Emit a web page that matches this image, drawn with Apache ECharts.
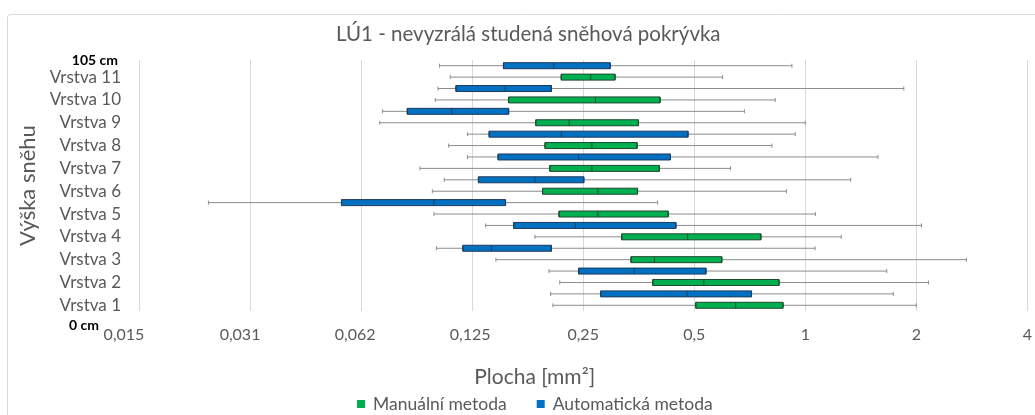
<!DOCTYPE html>
<html>
<head>
<meta charset="utf-8">
<script src="https://cdn.jsdelivr.net/npm/echarts@6/dist/echarts.min.js"></script>
<style>
html,body{margin:0;padding:0;background:#ffffff;}
#chart{width:1035px;height:415px;}
</style>
</head>
<body>
<div id="chart"></div>
<script>
// ---- data ----
const layers = ['Vrstva 1','Vrstva 2','Vrstva 3','Vrstva 4','Vrstva 5','Vrstva 6','Vrstva 7','Vrstva 8','Vrstva 9','Vrstva 10','Vrstva 11'];

// Manuální metoda (green)
const manualMin    = [0.207, 0.216, 0.145, 0.185, 0.0985, 0.0975, 0.0903, 0.108, 0.0702, 0.0993, 0.109];
const manualQ1     = [0.505, 0.386, 0.337, 0.318, 0.215, 0.194, 0.203, 0.197, 0.186, 0.157, 0.218];
const manualMedian = [0.648, 0.531, 0.390, 0.480, 0.274, 0.274, 0.264, 0.264, 0.229, 0.270, 0.262];
const manualQ3     = [0.870, 0.849, 0.594, 0.758, 0.425, 0.351, 0.402, 0.350, 0.353, 0.404, 0.305];
const manualMax    = [2.000, 2.157, 2.734, 1.252, 1.065, 0.889, 0.627, 0.812, 1.000, 0.829, 0.597];

// Automatická metoda (blue)
const autoMin    = [0.204, 0.202, 0.100, 0.136, 0.0241, 0.105, 0.1215, 0.1215, 0.0714, 0.101, 0.102];
const autoQ1     = [0.279, 0.243, 0.118, 0.162, 0.0553, 0.130, 0.147, 0.139, 0.0834, 0.113, 0.152];
const autoMedian = [0.478, 0.344, 0.141, 0.238, 0.0985, 0.185, 0.243, 0.218, 0.110, 0.1535, 0.208];
const autoQ3     = [0.715, 0.538, 0.205, 0.446, 0.154, 0.251, 0.431, 0.481, 0.157, 0.205, 0.296];
const autoMax    = [1.732, 1.663, 1.063, 2.066, 0.398, 1.328, 1.574, 0.939, 0.684, 1.850, 0.920];

const xTickLabels = ['0,015','0,031','0,062','0,125','0,25','0,5','1','2','4'];

const seriesNames = ['Manuální metoda', 'Automatická metoda'];
const title = 'LÚ1 - nevyzrálá studená sněhová pokrývka';
const yAxisTitle = 'Výška sněhu';
const xAxisTitle = 'Plocha [mm²]';
const topLabel = '105 cm';
const bottomLabel = '0 cm';

// style only: horizontal nudge (px, leftwards) of each x tick label as seen in the reference
const xLabelNudge = [15, 10, 6, 2, 0, 0, 0, 0, 0];

// ---- build rows: each layer = manual row (lower) + automatic row (upper) ----
const rowCats = [], rowLabels = [];
const whiskerData = [], manualBox = [], autoBox = [];
const EMPTY = ['-','-','-','-','-'];
layers.forEach((name, i) => {
  rowCats.push(name + ' M'); rowLabels.push(name);
  whiskerData.push([manualMin[i], manualQ1[i], manualMedian[i], manualQ3[i], manualMax[i]]);
  manualBox.push([manualQ1[i], manualQ1[i], manualMedian[i], manualQ3[i], manualQ3[i]]);
  autoBox.push(EMPTY.slice());

  rowCats.push(name + ' A'); rowLabels.push('');
  whiskerData.push([autoMin[i], autoQ1[i], autoMedian[i], autoQ3[i], autoMax[i]]);
  autoBox.push([autoQ1[i], autoQ1[i], autoMedian[i], autoQ3[i], autoQ3[i]]);
  manualBox.push(EMPTY.slice());
});

const FONT = 'Lato, "Open Sans", sans-serif';
const TXT = '#595959';
const GREEN = '#00b050', GREEN_B = '#1d4a2c';
const BLUE = '#0070c0', BLUE_B = '#1f3a5f';

const xRich = {};
xLabelNudge.forEach((n, i) => {
  xRich['t' + i] = {color: TXT, fontFamily: FONT, fontSize: 16, padding: [0, 2 * n, 0, 0]};
});

const chart = echarts.init(document.getElementById('chart'));
const catAxis = (show) => ({
  type: 'category', data: rowCats, show: show, gridIndex: 0,
  axisLine: {show: false}, axisTick: {show: false},
  splitLine: {show: false}
});
const yMain = catAxis(true);
yMain.axisLabel = {
  interval: 0, margin: 18, color: TXT, fontFamily: FONT, fontSize: 17,
  formatter: (v, idx) => rowLabels[idx]
};
yMain.name = yAxisTitle;
yMain.nameLocation = 'middle';
yMain.nameGap = 89;
yMain.nameRotate = 90;
yMain.nameTextStyle = {color: TXT, fontFamily: FONT, fontSize: 22};

chart.setOption({
  animation: false,
  backgroundColor: '#ffffff',
  title: {
    text: title, left: 336, top: 24, padding: 0,
    textStyle: {color: TXT, fontFamily: FONT, fontSize: 20.5, fontWeight: 'normal'}
  },
  legend: {
    left: 352, top: 390, itemWidth: 8, itemHeight: 8, itemGap: 30,
    icon: 'rect',
    textStyle: {color: TXT, fontFamily: FONT, fontSize: 17.5, padding: [0, 0, 0, 3]},
    data: [
      {name: seriesNames[0], itemStyle: {color: GREEN, borderWidth: 0}},
      {name: seriesNames[1], itemStyle: {color: BLUE, borderWidth: 0}}
    ]
  },
  grid: {left: 139, right: 5, top: 60, bottom: 104, containLabel: false},
  xAxis: {
    type: 'log', logBase: 2, min: 0.015625, max: 4,
    axisLine: {show: false}, axisTick: {show: false},
    splitLine: {show: true, lineStyle: {color: '#d9d9d9', width: 1}},
    axisLabel: {
      color: TXT, fontFamily: FONT, fontSize: 16, margin: 16, rich: xRich,
      formatter: v => {
        const i = Math.round(Math.log2(v)) + 6;
        return xTickLabels[i] ? '{t' + i + '|' + xTickLabels[i] + '}' : '';
      }
    },
    name: xAxisTitle, nameLocation: 'middle', nameGap: 56,
    nameTextStyle: {color: TXT, fontFamily: FONT, fontSize: 21, padding: [0, 97, 0, 0]}
  },
  yAxis: [yMain, catAxis(false), catAxis(false)],
  graphic: [
    {type: 'rect', silent: true, z: -10,
     shape: {x: 7.5, y: 14.5, width: 1100, height: 500, r: 3},
     style: {fill: 'none', stroke: '#d9d9d9', lineWidth: 1}},
    {type: 'text', silent: true, x: 118, y: 60,
     style: {text: topLabel, fill: '#000', font: 'bold 14px ' + FONT, textAlign: 'right', textVerticalAlign: 'middle'}},
    {type: 'text', silent: true, x: 99, y: 325,
     style: {text: bottomLabel, fill: '#000', font: 'bold 14px ' + FONT, textAlign: 'right', textVerticalAlign: 'middle'}}
  ],
  series: [
    {
      name: 'whiskers', type: 'boxplot', yAxisIndex: 0, data: whiskerData,
      boxWidth: [4, 4], silent: true,
      itemStyle: {color: 'rgba(0,0,0,0)', borderColor: '#8c8c8c', borderWidth: 1},
      emphasis: {disabled: true}, tooltip: {show: false}
    },
    {
      name: seriesNames[1], type: 'boxplot', yAxisIndex: 1, data: autoBox,
      boxWidth: [6, 6],
      itemStyle: {color: BLUE, borderColor: BLUE_B, borderWidth: 1},
      emphasis: {disabled: true}
    },
    {
      name: seriesNames[0], type: 'boxplot', yAxisIndex: 2, data: manualBox,
      boxWidth: [6, 6],
      itemStyle: {color: GREEN, borderColor: GREEN_B, borderWidth: 1},
      emphasis: {disabled: true}
    }
  ]
});
</script>
</body>
</html>
